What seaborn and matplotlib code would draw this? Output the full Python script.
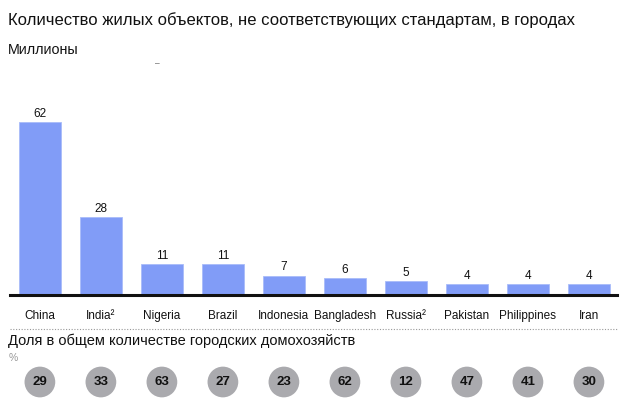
import matplotlib
matplotlib.use("Agg")
import matplotlib.pyplot as plt
import seaborn as sns
import pandas as pd
from matplotlib.lines import Line2D

countries = ["China", "India²", "Nigeria", "Brazil", "Indonesia", "Bangladesh",
             "Russia²", "Pakistan", "Philippines", "Iran"]
housing_millions = [62, 28, 11, 11, 7, 6, 5, 4, 4, 4]
share_pct = [29, 33, 63, 27, 23, 62, 12, 47, 41, 30]

sns.set_theme(style="white")
plt.rcParams['font.family'] = ['Liberation Sans', 'DejaVu Sans']

df = pd.DataFrame({"country": countries, "value": housing_millions, "share": share_pct})

fig = plt.figure(figsize=(6.39, 4.12), dpi=100)
W, H = 639, 412
def fx(px): return px / W
def fy(py): return 1 - py / H

# Bar axes
ax = fig.add_axes([fx(10), fy(295), fx(617) - fx(10), fy(100) - fy(295)])
sns.barplot(data=df, x="country", y="value", color="#819cf7", width=0.7,
            saturation=1, ax=ax, edgecolor="#a9bcf9", linewidth=0.6)
ax.set_xlim(-0.49, 9.46)
ax.set_ylim(0, 70)
for i, v in enumerate(housing_millions):
    ax.text(i, v + 0.8, str(v), ha="center", va="bottom", fontsize=8.5, color="#111111")
for s in ["top", "right", "left"]:
    ax.spines[s].set_visible(False)
ax.spines["bottom"].set_linewidth(2.2)
ax.spines["bottom"].set_color("#111111")
ax.set_yticks([])
ax.set_xlabel("")
ax.set_ylabel("")
ax.tick_params(axis="x", length=0, pad=11, labelsize=8.5, colors="#111111")

# Titles
fig.text(fx(8), fy(20), "Количество жилых объектов, не соответствующих стандартам, в городах",
         fontsize=12, va="center", ha="left", color="#111111")
fig.text(fx(8), fy(50), "Миллионы", fontsize=10.3, va="center", ha="left", color="#111111")
fig.text(fx(157), fy(64), "–", fontsize=6, va="center", ha="center", color="#333333")

# Dotted separator
fig.add_artist(Line2D([fx(10), fx(617)], [fy(329), fy(329)], transform=fig.transFigure,
                      linestyle=(0, (1, 1.5)), color="#999999", linewidth=0.8))

fig.text(fx(8), fy(341), "Доля в общем количестве городских домохозяйств",
         fontsize=10.5, va="center", ha="left", color="#111111")
fig.text(fx(9), fy(358), "%", fontsize=7.5, va="center", ha="left", color="#999999")

# Circles axes
ax2 = fig.add_axes([fx(10), fy(400), fx(617) - fx(10), fy(364) - fy(400)])
ax2.set_xlim(-0.49, 9.46)
ax2.set_ylim(-1, 1)
sns.scatterplot(x=list(range(len(share_pct))), y=[0] * len(share_pct), s=490,
                color="#aaaaae", edgecolor="none", ax=ax2, legend=False)
for i, v in enumerate(share_pct):
    ax2.text(i, 0, str(v), ha="center", va="center", fontsize=9.5, fontweight="bold",
             color="#111111")
ax2.axis("off")

fig.savefig("out.png", dpi=100)
